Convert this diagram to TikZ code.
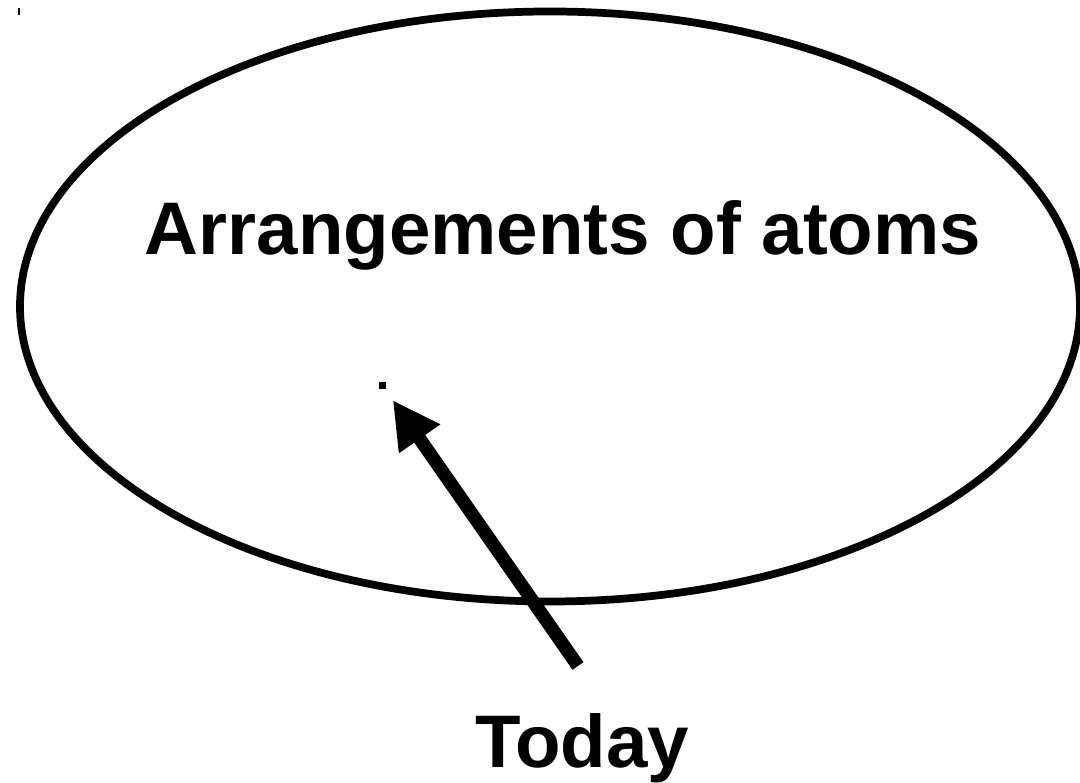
\documentclass[tikz,border=0pt]{standalone}
\usepackage{fontspec}
\setmainfont{Liberation Sans}
\usetikzlibrary{arrows.meta, positioning}
\tikzset{
    sketch/.style={line width=2.2pt, font=\bfseries\fontsize{21.2}{25}\selectfont},
    label/.style={inner sep=0pt, anchor=base},
    site/.style={fill, rectangle, minimum size=0.07cm, inner sep=0pt},
    pointer/.style={-{Triangle[length=4.7mm, width=4.7mm]}, line width=3.8pt, line cap=butt},
}
\begin{document}
\begin{tikzpicture}[sketch]
        \useasboundingbox (0,0) rectangle (10.8,7.83);
        \draw (5.50,4.765) ellipse [x radius=5.30, y radius=2.95];
        \draw[line width=0.3pt] (0.19,7.75) -- (0.19,7.68);

        \node[label]             (title) at (5.63,5.28) {Arrangements of atoms};
        \node[site]              (atom)  at (3.825,3.975) {};
        \node[label]             (today) at (5.82,0.15) {Today};
        \coordinate              (tail)  at (5.78,1.17);

        \draw[pointer, shorten >=0.18cm] (tail) -- (atom.center);
    \end{tikzpicture}
\end{document}
